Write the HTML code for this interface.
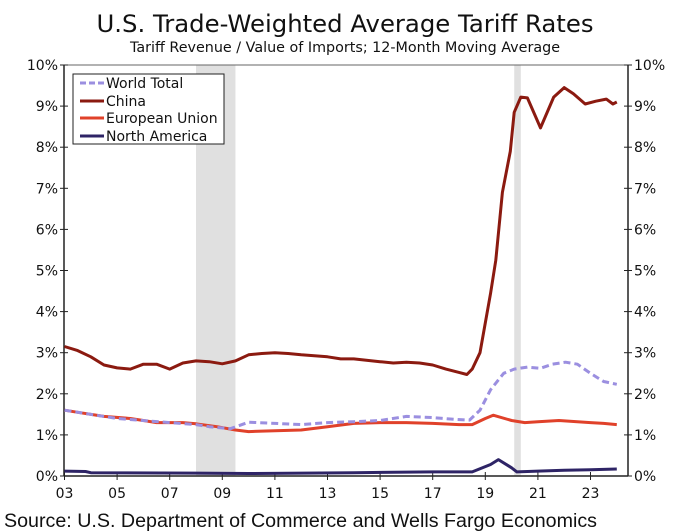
<!DOCTYPE html>
<html><head><meta charset="utf-8"><style>
html,body{margin:0;padding:0;background:#fff;}
svg{display:block;font-family:"DejaVu Sans","Liberation Sans",sans-serif;}
</style></head><body>
<svg id="chart" width="687" height="532" viewBox="0 0 687 532">
<text x="345" y="32" text-anchor="middle" font-size="24" textLength="497" lengthAdjust="spacingAndGlyphs" fill="#111">U.S. Trade-Weighted Average Tariff Rates</text>
<text x="345" y="52" text-anchor="middle" font-size="14" textLength="430" lengthAdjust="spacingAndGlyphs" fill="#111">Tariff Revenue / Value of Imports; 12-Month Moving Average</text>
<g id="shades"></g>
<g id="axes"></g>
<g id="series"></g>
<g>
<rect x="73" y="74" width="151" height="70" fill="#fff" stroke="#222" stroke-width="1"/>
<g><line x1="80" y1="83" x2="104" y2="83" stroke="#9b8fe0" stroke-width="3" stroke-dasharray="6,3"/><text x="106" y="88" font-size="14" fill="#111">World Total</text></g>
<g><line x1="80" y1="101" x2="104" y2="101" stroke="#8b1a10" stroke-width="3"/><text x="106" y="106" font-size="14" fill="#111">China</text></g>
<g><line x1="80" y1="118" x2="104" y2="118" stroke="#e0412a" stroke-width="3"/><text x="106" y="123" font-size="14" fill="#111">European Union</text></g>
<g><line x1="80" y1="136" x2="104" y2="136" stroke="#2e2466" stroke-width="3"/><text x="106" y="141" font-size="14" fill="#111">North America</text></g>
</g>
<text x="4" y="527" font-size="19" textLength="593" lengthAdjust="spacingAndGlyphs" font-family="Liberation Sans, sans-serif" fill="#111">Source: U.S. Department of Commerce and Wells Fargo Economics</text>
</svg>
<script>
const yTicks=[0,1,2,3,4,5,6,7,8,9,10];
const xTickYears=[2003,2005,2007,2009,2011,2013,2015,2017,2019,2021,2023];
const xTickLabels=["03","05","07","09","11","13","15","17","19","21","23"];
const recessions=[[2008.0,2009.5],[2020.1,2020.35]];
const chinaX=[2003,2003.5,2004,2004.5,2005,2005.5,2006,2006.5,2007,2007.5,2008,2008.5,2009,2009.5,2010,2010.5,2011,2011.5,2012,2013,2013.5,2014,2015,2015.5,2016,2016.5,2017,2017.5,2018,2018.3,2018.5,2018.8,2019.2,2019.4,2019.65,2019.95,2020.1,2020.35,2020.6,2021.1,2021.6,2022.0,2022.35,2022.8,2023.2,2023.6,2023.85,2024];
const chinaY=[3.15,3.05,2.9,2.7,2.63,2.6,2.72,2.72,2.6,2.75,2.8,2.78,2.73,2.8,2.95,2.98,3.0,2.98,2.95,2.9,2.85,2.85,2.78,2.75,2.77,2.75,2.7,2.6,2.52,2.47,2.6,3.0,4.45,5.25,6.9,7.9,8.85,9.22,9.2,8.47,9.22,9.45,9.3,9.05,9.12,9.17,9.05,9.1];
const worldX=[2003,2005,2007,2008,2008.5,2009.3,2010,2011,2012,2013,2014,2015,2016,2017,2017.8,2018.4,2018.8,2019.2,2019.7,2020.1,2020.6,2021.1,2021.55,2022.05,2022.5,2023,2023.5,2024];
const worldY=[1.6,1.4,1.3,1.25,1.2,1.15,1.31,1.28,1.25,1.3,1.32,1.35,1.45,1.42,1.38,1.36,1.6,2.1,2.5,2.6,2.65,2.62,2.72,2.77,2.72,2.5,2.3,2.23];
const euX=[2003,2003.5,2004.5,2005.5,2006,2006.5,2007.5,2008,2008.8,2009.5,2010,2011,2012,2013,2014,2015,2016,2017,2018,2018.5,2019,2019.3,2020,2020.5,2021,2021.8,2022.5,2023,2023.5,2024];
const euY=[1.6,1.55,1.45,1.4,1.35,1.3,1.3,1.27,1.2,1.12,1.08,1.1,1.12,1.2,1.28,1.3,1.3,1.28,1.25,1.25,1.4,1.48,1.35,1.3,1.32,1.35,1.32,1.3,1.28,1.25];
const naX=[2003,2003.8,2004,2008,2010,2014,2017,2018.5,2019.2,2019.5,2020,2020.2,2021,2022,2023,2024];
const naY=[0.12,0.11,0.08,0.07,0.06,0.08,0.1,0.1,0.28,0.4,0.2,0.1,0.12,0.14,0.15,0.17];

const NS="http://www.w3.org/2000/svg";
const X0=64.5,PX=26.3,Y0=476,PY=41.1,L=64,R=628,T=65;
const xs=v=>X0+(v-2003)*PX;
const ys=v=>Y0-v*PY;
function mk(tag,attrs,parent){const e=document.createElementNS(NS,tag);for(const k in attrs)e.setAttribute(k,attrs[k]);parent.appendChild(e);return e;}
const shades=document.getElementById('shades'),axes=document.getElementById('axes'),series=document.getElementById('series');
recessions.forEach(r=>{
  const el=mk('rect',{x:xs(r[0]),y:T,width:xs(r[1])-xs(r[0]),height:Y0-T,fill:'#e0e0e0'},shades);
  
  
});
mk('line',{x1:L,y1:T,x2:R,y2:T,stroke:'#666','stroke-width':1},axes);
let ax=mk('line',{x1:L,y1:T,x2:L,y2:Y0,stroke:'#222','stroke-width':1.5},axes);


ax=mk('line',{x1:R,y1:T,x2:R,y2:Y0,stroke:'#222','stroke-width':1.5},axes);


ax=mk('line',{x1:L,y1:Y0,x2:R,y2:Y0,stroke:'#222','stroke-width':1.5},axes);


yTicks.forEach(t=>{
  const y=ys(t);
  mk('line',{x1:L-4,y1:y,x2:L+4,y2:y,stroke:'#222'},axes);
  mk('line',{x1:R-4,y1:y,x2:R+4,y2:y,stroke:'#222'},axes);
  const a=mk('text',{x:L-6,y:y+5,'text-anchor':'end','font-size':14,fill:'#111'},axes);a.textContent=t+'%';
  
  
  const b=mk('text',{x:R+6,y:y+5,'text-anchor':'start','font-size':14,fill:'#111'},axes);b.textContent=t+'%';
  
  
});
xTickYears.forEach((yr,i)=>{
  const x=xs(yr);
  mk('line',{x1:x,y1:Y0-4,x2:x,y2:Y0+4,stroke:'#222'},axes);
  const t=mk('text',{x:x,y:Y0+22,'text-anchor':'middle','font-size':14,fill:'#111'},axes);t.textContent=xTickLabels[i];
  
  
});
function line(xa,ya,color,dash,name){
  const d=xa.map((v,i)=>(i?'L':'M')+xs(v).toFixed(1)+','+ys(ya[i]).toFixed(1)).join('');
  const p=mk('path',{d:d,fill:'none',stroke:color,'stroke-width':3,'stroke-linejoin':'round'},series);
  if(dash)p.setAttribute('stroke-dasharray',dash);
  
  
}
line(naX,naY,'#2e2466',null,'north-america-line');
line(euX,euY,'#e0412a',null,'eu-line');
line(worldX,worldY,'#9b8fe0','7,4','world-total-line');
line(chinaX,chinaY,'#8b1a10',null,'china-line');
</script>
</body></html>
